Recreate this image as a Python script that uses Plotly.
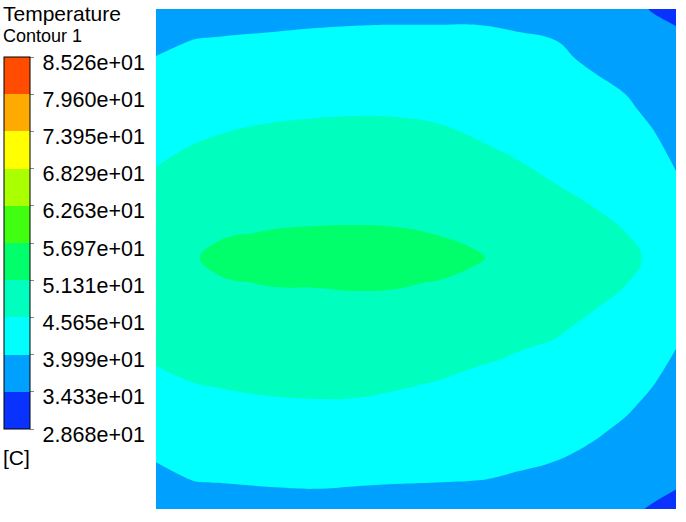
import plotly.graph_objects as go

# sample positions across the section (x to the right, y downwards)
x_pos = [0, 40, 60, 80, 120, 160, 200, 240, 280, 320, 360, 400, 440, 470, 495, 520]
y_pos = [0, 16, 32, 50, 75, 100, 125, 150, 175, 200, 225, 249, 273,
         298, 325, 350, 375, 400, 425, 450, 470, 485, 500]

# temperature [C], one list per x position (top -> bottom)
t_x000 = [36.5, 37.71, 38.93, 40.20, 41.48, 42.77, 44.05, 45.34, 46.33, 47.23, 48.13, 49.0,
          48.28, 47.53, 46.73, 45.98, 44.80, 43.28, 41.75, 40.23, 38.78, 37.64, 36.5]
t_x040 = [36.5, 38.49, 40.21, 41.18, 42.52, 43.87, 45.22, 46.43, 47.59, 48.74, 49.89, 51.0,
          49.98, 48.92, 47.77, 46.71, 45.64, 44.24, 42.82, 41.40, 40.27, 38.59, 36.5]
t_x060 = [36.5, 38.77, 40.39, 41.40, 42.79, 44.19, 45.57, 46.84, 48.08, 49.31, 50.60, 52.6,
          50.60, 49.44, 48.18, 47.02, 45.85, 44.45, 43.00, 41.55, 40.40, 38.79, 36.5]
t_x080 = [36.5, 39.04, 40.57, 41.61, 43.05, 44.50, 45.91, 47.24, 48.56, 49.88, 51.20, 53.5,
          51.21, 49.95, 48.58, 47.32, 46.06, 44.65, 43.17, 41.70, 40.52, 38.99, 36.5]
t_x120 = [36.5, 39.44, 40.78, 41.88, 43.40, 44.92, 46.33, 47.64, 48.95, 50.26, 51.57, 54.3,
          51.57, 50.29, 48.91, 47.64, 46.36, 44.98, 43.46, 41.94, 40.72, 39.41, 36.5]
t_x160 = [36.5, 39.78, 40.92, 42.04, 43.60, 45.15, 46.53, 47.83, 49.13, 50.43, 51.72, 54.5,
          51.58, 50.44, 49.05, 47.76, 46.47, 45.10, 43.56, 42.02, 40.79, 39.58, 36.5]
t_x200 = [36.5, 39.95, 41.00, 42.13, 43.70, 45.27, 46.63, 47.91, 49.20, 50.49, 51.77, 54.5,
          51.78, 50.47, 49.06, 47.75, 46.44, 45.03, 43.47, 41.92, 40.67, 39.26, 36.5]
t_x240 = [36.5, 40.03, 41.01, 42.13, 43.67, 45.22, 46.57, 47.84, 49.12, 50.39, 51.67, 54.4,
          51.70, 50.31, 48.81, 47.43, 46.04, 44.60, 43.14, 41.68, 40.51, 38.99, 36.5]
t_x280 = [36.5, 40.05, 40.97, 42.01, 43.46, 44.90, 46.25, 47.50, 48.76, 50.01, 51.26, 53.8,
          51.20, 49.80, 48.28, 46.88, 45.49, 44.14, 42.79, 41.45, 40.37, 38.78, 36.5]
t_x320 = [36.5, 40.04, 40.83, 41.73, 42.97, 44.21, 45.45, 46.49, 47.49, 48.50, 49.50, 52.2,
          49.15, 48.13, 47.03, 46.02, 44.86, 43.62, 42.39, 41.15, 40.17, 38.48, 36.5]
t_x360 = [36.5, 39.60, 40.59, 41.36, 42.43, 43.51, 44.58, 45.66, 46.30, 46.96, 47.61, 48.24,
          47.60, 46.93, 46.21, 45.46, 44.28, 43.10, 41.92, 40.74, 39.58, 38.04, 36.5]
t_x400 = [36.5, 38.30, 40.03, 40.74, 41.72, 42.70, 43.68, 44.67, 45.66, 46.28, 46.90, 47.5,
          46.97, 46.42, 45.83, 44.85, 43.67, 42.49, 41.31, 40.13, 38.73, 37.61, 36.5]
t_x440 = [36.0, 37.03, 38.06, 39.22, 40.52, 41.55, 42.57, 43.60, 44.62, 45.66, 46.34, 47.0,
          46.38, 45.73, 44.61, 43.53, 42.45, 41.37, 40.29, 38.93, 37.76, 36.88, 36.0]
t_x470 = [35.5, 36.36, 37.21, 38.17, 39.51, 40.64, 41.66, 42.68, 43.69, 44.71, 45.72, 46.6,
          45.79, 44.75, 43.59, 42.52, 41.45, 40.38, 39.11, 37.74, 36.64, 35.82, 35.0]
t_x495 = [34.2, 35.00, 35.80, 36.70, 37.94, 39.19, 40.34, 41.30, 42.26, 43.22, 44.18, 45.1,
          44.17, 43.20, 42.16, 41.19, 40.22, 39.05, 37.81, 36.57, 35.58, 34.84, 34.1]
t_x520 = [32.0, 34.30, 34.95, 35.66, 36.63, 37.61, 38.58, 39.56, 40.46, 41.29, 42.13, 42.93,
          42.26, 41.43, 40.53, 39.63, 38.63, 37.64, 36.64, 35.65, 34.85, 34.11, 32.5]

columns = [t_x000, t_x040, t_x060, t_x080, t_x120, t_x160, t_x200, t_x240, t_x280,
           t_x320, t_x360, t_x400, t_x440, t_x470, t_x495, t_x520]
z = [list(row) for row in zip(*columns)]

# legend levels and labels
levels = [28.68, 34.33, 39.99, 45.65, 51.31, 56.97, 62.63, 68.29, 73.95, 79.60, 85.26]
level_labels = ['2.868e+01', '3.433e+01', '3.999e+01', '4.565e+01', '5.131e+01', '5.697e+01',
                '6.263e+01', '6.829e+01', '7.395e+01', '7.960e+01', '8.526e+01']
band_colors = ['#0a32ff', '#00a0ff', '#00ffff', '#00ffbf', '#00ff6a',
               '#40ff10', '#aaff00', '#ffff00', '#ffaa00', '#ff4c00']

n = len(band_colors)
# contour fill: plotly picks band i at (i+1)/(n+1) of the scale
fill_scale = [[0, band_colors[0]]]
for i, c in enumerate(band_colors):
    fill_scale.append([(i + 1) / (n + 1), c])
fill_scale.append([1, band_colors[-1]])

# legend bar: hard steps between the levels
bar_scale = []
for i, c in enumerate(band_colors):
    bar_scale.append([i / n, c])
    bar_scale.append([(i + 1) / n, c])

font = 'Arial, Liberation Sans, sans-serif'
# labels sit slightly below their level line in the original legend
tick_text = ["<span style='font-size:21.5px; baseline-shift:-4.5px'>\u2009%s</span>" % s
             for s in level_labels]

fig = go.Figure()

# carries the legend bar only; the contour below paints over it
fig.add_trace(go.Heatmap(
    x=x_pos, y=y_pos, z=z,
    zmin=levels[0], zmax=levels[-1],
    colorscale=bar_scale,
    hoverinfo='skip',
    colorbar=dict(
        x=-0.2923, xanchor='left', xpad=0,
        y=0.904, yanchor='top', ypad=0,
        len=0.744, lenmode='fraction',
        thickness=26, thicknessmode='pixels',
        outlinewidth=1, outlinecolor='black', borderwidth=0,
        tickmode='array', tickvals=levels, ticktext=tick_text,
        ticks='outside', ticklen=4, tickwidth=1, tickcolor='#888',
        tickfont=dict(family=font, size=21.5, color='black'),
    ),
))

fig.add_trace(go.Contour(
    x=x_pos, y=y_pos, z=z,
    autocontour=False,
    contours=dict(start=levels[0], end=levels[-1], size=5.658, coloring='fill', showlines=False),
    line=dict(width=0, smoothing=1.3),
    colorscale=fill_scale,
    showscale=False,
    hoverinfo='skip',
))

fig.update_layout(
    width=686, height=522,
    margin=dict(l=156, r=10, t=9, b=13, autoexpand=False),
    paper_bgcolor='white', plot_bgcolor='white',
    xaxis=dict(range=[0, 520], visible=False, fixedrange=True),
    yaxis=dict(range=[500, 0], visible=False, fixedrange=True),
    showlegend=False,
    annotations=[
        dict(text='Temperature', x=-0.2923, y=0.992, xref='paper', yref='paper',
             xanchor='left', yanchor='middle', showarrow=False, xshift=-2, borderpad=0,
             font=dict(family=font, size=21, color='black')),
        dict(text='Contour 1', x=-0.2923, y=0.946, xref='paper', yref='paper',
             xanchor='left', yanchor='middle', showarrow=False, xshift=-2, borderpad=0,
             font=dict(family=font, size=18, color='black')),
        dict(text='[C]', x=-0.2923, y=0.104, xref='paper', yref='paper',
             xanchor='left', yanchor='middle', showarrow=False, xshift=-2, borderpad=0,
             font=dict(family=font, size=21, color='black')),
    ],
)

fig.write_html('out.html', config={'displayModeBar': False},
               post_script="document.body.style.margin = '0';")
